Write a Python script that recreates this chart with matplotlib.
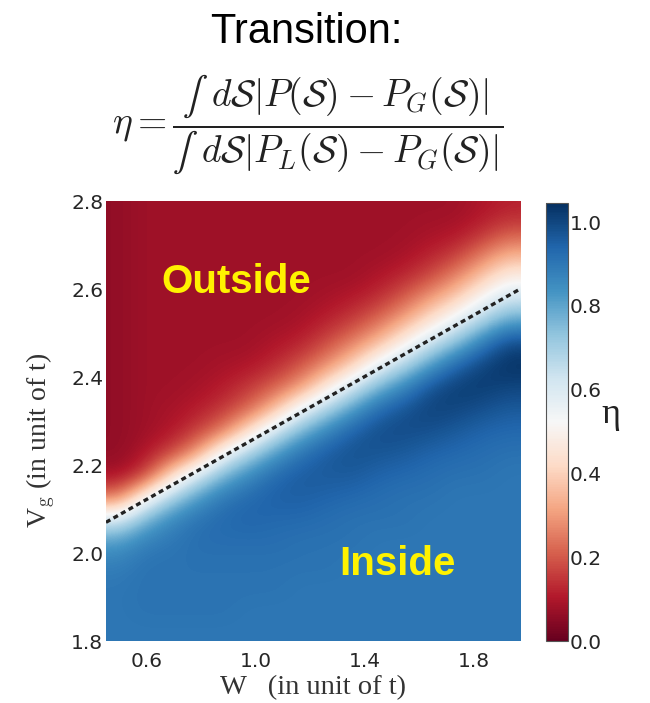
import numpy as np
import matplotlib.pyplot as plt

# axis ranges (W and Vg, in units of t)
w_range = [0.45, 1.97]
vg_range = [1.8, 2.8]

# eta: rows go bottom (Vg=1.825) to top (Vg=2.775), 0.05 apart,
# columns go left to right across W
eta_grid = [
    [0.90, 0.90, 0.90, 0.90, 0.90, 0.90, 0.90, 0.90, 0.90, 0.90, 0.90, 0.90, 0.90, 0.90, 0.90, 0.90],
    [0.90, 0.91, 0.91, 0.91, 0.91, 0.90, 0.90, 0.90, 0.90, 0.90, 0.90, 0.90, 0.90, 0.90, 0.90, 0.90],
    [0.90, 0.91, 0.91, 0.91, 0.91, 0.91, 0.91, 0.90, 0.90, 0.90, 0.90, 0.90, 0.90, 0.90, 0.90, 0.90],
    [0.88, 0.91, 0.91, 0.91, 0.91, 0.91, 0.91, 0.91, 0.91, 0.90, 0.90, 0.90, 0.90, 0.90, 0.90, 0.90],
    [0.82, 0.88, 0.90, 0.92, 0.92, 0.92, 0.92, 0.91, 0.91, 0.91, 0.90, 0.90, 0.90, 0.90, 0.90, 0.90],
    [0.62, 0.77, 0.86, 0.91, 0.93, 0.94, 0.93, 0.93, 0.92, 0.91, 0.91, 0.91, 0.90, 0.90, 0.90, 0.90],
    [0.25, 0.52, 0.70, 0.82, 0.90, 0.93, 0.95, 0.95, 0.94, 0.93, 0.92, 0.91, 0.91, 0.90, 0.90, 0.90],
    [0.09, 0.16, 0.42, 0.62, 0.77, 0.86, 0.93, 0.96, 0.96, 0.96, 0.94, 0.93, 0.92, 0.91, 0.91, 0.90],
    [0.06, 0.10, 0.17, 0.30, 0.55, 0.70, 0.82, 0.91, 0.96, 0.98, 0.97, 0.96, 0.94, 0.93, 0.92, 0.91],
    [0.06, 0.08, 0.10, 0.16, 0.25, 0.44, 0.63, 0.77, 0.87, 0.95, 0.99, 0.99, 0.98, 0.96, 0.94, 0.93],
    [0.06, 0.08, 0.09, 0.11, 0.15, 0.22, 0.36, 0.56, 0.70, 0.82, 0.93, 0.98, 1.01, 1.00, 0.98, 0.96],
    [0.06, 0.08, 0.08, 0.09, 0.11, 0.15, 0.21, 0.30, 0.47, 0.63, 0.77, 0.87, 0.98, 1.02, 1.02, 1.00],
    [0.06, 0.08, 0.08, 0.08, 0.09, 0.10, 0.13, 0.19, 0.28, 0.40, 0.57, 0.69, 0.82, 0.94, 1.01, 1.04],
    [0.06, 0.08, 0.08, 0.08, 0.08, 0.08, 0.10, 0.12, 0.18, 0.26, 0.36, 0.50, 0.64, 0.75, 0.89, 1.00],
    [0.06, 0.08, 0.08, 0.08, 0.08, 0.08, 0.08, 0.09, 0.12, 0.16, 0.23, 0.33, 0.45, 0.57, 0.70, 0.81],
    [0.06, 0.08, 0.08, 0.08, 0.08, 0.08, 0.08, 0.08, 0.09, 0.11, 0.14, 0.21, 0.31, 0.40, 0.53, 0.64],
    [0.06, 0.08, 0.08, 0.08, 0.08, 0.08, 0.08, 0.08, 0.08, 0.08, 0.10, 0.13, 0.18, 0.27, 0.38, 0.49],
    [0.06, 0.08, 0.08, 0.08, 0.08, 0.08, 0.08, 0.08, 0.08, 0.08, 0.08, 0.09, 0.12, 0.16, 0.25, 0.34],
    [0.06, 0.08, 0.08, 0.08, 0.08, 0.08, 0.08, 0.08, 0.08, 0.08, 0.08, 0.08, 0.09, 0.10, 0.14, 0.20],
    [0.06, 0.08, 0.08, 0.08, 0.08, 0.08, 0.08, 0.08, 0.08, 0.08, 0.08, 0.08, 0.08, 0.08, 0.10, 0.12],
]

# dashed transition line (end points)
boundary_w = [0.45, 1.97]
boundary_vg = [2.07, 2.60]

w_ticks = [0.6, 1.0, 1.4, 1.8]
vg_ticks = [1.8, 2.0, 2.2, 2.4, 2.6, 2.8]
cbar_ticks = [0.0, 0.2, 0.4, 0.6, 0.8, 1.0]
eta_max = 1.045

plt.rcParams['mathtext.fontset'] = 'cm'

fig = plt.figure(figsize=(6.5, 7.03), dpi=100)
ax = fig.add_axes([0.163, 0.088, 0.637, 0.626])
cax = fig.add_axes([0.84, 0.088, 0.034, 0.623])

im = ax.imshow(np.array(eta_grid), cmap='RdBu', vmin=0, vmax=eta_max,
               extent=[w_range[0], w_range[1], vg_range[0], vg_range[1]],
               origin='lower', aspect='auto', interpolation='bicubic')
ax.plot(boundary_w, boundary_vg, color='#222222', lw=2.4, linestyle=(0, (1.5, 1.1)))
ax.set_xlim(w_range)
ax.set_ylim(vg_range)

ax.set_xticks(w_ticks)
ax.set_xticklabels([f'{t:.1f}' for t in w_ticks])
ax.set_yticks(vg_ticks)
ax.set_yticklabels([f'{t:.1f}' for t in vg_ticks])
ax.tick_params(axis='x', length=0, labelsize=14.5, labelcolor='#262626', pad=8)
ax.tick_params(axis='y', length=0, labelsize=14.5, labelcolor='#262626', pad=2)
for s in ax.spines.values():
    s.set_visible(False)

ax.set_xlabel('W   (in unit of t)', family='Liberation Serif', fontsize=20.5,
              color='#333333', labelpad=3)
ax.set_ylabel(r'V$_{\mathrm{g}}$ (in unit of t)', family='Liberation Serif',
              fontsize=20, color='#333333')
ax.yaxis.set_label_coords(-0.118, 0.457)

ax.text(0.93, 2.615, 'Outside', color='#fff200', fontsize=29, fontweight='bold',
        family='Liberation Sans', ha='center', va='center')
ax.text(1.52, 1.975, 'Inside', color='#fff200', fontsize=29, fontweight='bold',
        family='Liberation Sans', ha='center', va='center')

cb = fig.colorbar(im, cax=cax, ticks=cbar_ticks)
cb.ax.set_yticklabels([f'{t:.1f}' for t in cbar_ticks])
cb.ax.tick_params(length=0, labelsize=14.5, labelcolor='#262626', pad=1)
cb.outline.set_edgecolor('#555555')
cb.outline.set_linewidth(0.8)
fig.text(0.94, 0.41, 'η', family='Liberation Serif', fontsize=26,
         color='#222222', ha='center', va='center')

fig.text(0.472, 0.955, 'Transition:', family='Liberation Sans', fontsize=30,
         ha='center', va='center')
fig.text(0.474, 0.823,
         r'$\eta = \dfrac{∫\ d\mathcal{S}|P(\mathcal{S}) - P_G(\mathcal{S})|}'
         r'{∫\ d\mathcal{S}|P_L(\mathcal{S}) - P_G(\mathcal{S})|}$',
         fontsize=27, ha='center', va='center', color='#222222')

fig.savefig('out.png', dpi=100)
